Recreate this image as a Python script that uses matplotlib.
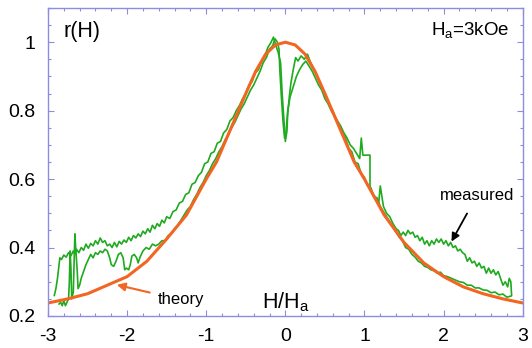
import matplotlib
matplotlib.use("Agg")
import matplotlib.pyplot as plt
from matplotlib.ticker import MultipleLocator

plt.rcParams['font.family'] = ['Liberation Sans', 'DejaVu Sans']
plt.rcParams['mathtext.default'] = 'regular'
plt.rcParams['axes.unicode_minus'] = False

# theory curve
theory_x = [-3.0, -2.75, -2.5, -2.25, -2.0, -1.75, -1.5, -1.25, -1.0, -0.87, -0.75,
            -0.62, -0.5, -0.375, -0.25, -0.125, 0.0, 0.125, 0.25, 0.375, 0.5, 0.62,
            0.75, 0.87, 1.0, 1.25, 1.5, 1.75, 2.0, 2.25, 2.5, 2.75, 3.0]
theory_y = [0.238, 0.25, 0.265, 0.29, 0.315, 0.36, 0.425, 0.495, 0.6, 0.65, 0.715,
            0.785, 0.85, 0.915, 0.965, 0.992, 1.0, 0.992, 0.965, 0.915, 0.85, 0.785,
            0.715, 0.65, 0.6, 0.495, 0.415, 0.355, 0.315, 0.285, 0.265, 0.25, 0.238]

# measured, first sweep
meas1_x = [-2.92, -2.9, -2.88, -2.86, -2.85, -2.83, -2.8, -2.77, -2.74, -2.71, -2.68,
           -2.66, -2.64, -2.61, -2.58, -2.55, -2.52, -2.49, -2.46, -2.43, -2.40, -2.37,
           -2.34, -2.31, -2.28, -2.25, -2.22, -2.19, -2.16, -2.13, -2.10, -2.07, -2.04,
           -2.01, -1.98, -1.95, -1.92, -1.89, -1.86, -1.83, -1.80, -1.77, -1.74, -1.71,
           -1.68, -1.65, -1.62, -1.59, -1.56, -1.53, -1.50, -1.46, -1.42, -1.38, -1.34,
           -1.30, -1.26, -1.22, -1.18, -1.14, -1.10, -1.06, -1.02, -0.98, -0.94, -0.90,
           -0.86, -0.82, -0.78, -0.74, -0.70, -0.66, -0.62, -0.58, -0.54, -0.50, -0.46,
           -0.42, -0.38, -0.34, -0.30, -0.26, -0.22, -0.18, -0.15, -0.12, -0.09, -0.06,
           -0.04, -0.02, 0.0, 0.02, 0.03, 0.05, 0.07, 0.1, 0.13, 0.16, 0.2, 0.24, 0.28,
           0.32, 0.36, 0.40, 0.44, 0.48, 0.52, 0.56, 0.60, 0.64, 0.68, 0.72, 0.76, 0.80,
           0.84, 0.88, 0.92, 0.96, 1.0, 1.04, 1.08, 1.12, 1.16, 1.20, 1.24, 1.28, 1.32,
           1.36, 1.40, 1.44, 1.48, 1.52, 1.56, 1.60, 1.64, 1.68, 1.72, 1.76, 1.80, 1.84,
           1.88, 1.92, 1.96, 2.0, 2.05, 2.10, 2.15, 2.20, 2.25, 2.30, 2.35, 2.40, 2.45,
           2.50, 2.55, 2.60, 2.65, 2.70, 2.75, 2.80, 2.85]
meas1_y = [0.26, 0.28, 0.31, 0.35, 0.37, 0.365, 0.378, 0.372, 0.385, 0.376, 0.39,
           0.38, 0.395, 0.385, 0.40, 0.392, 0.41, 0.398, 0.412, 0.405, 0.42, 0.41,
           0.428, 0.415, 0.42, 0.405, 0.41, 0.40, 0.415, 0.402, 0.418, 0.41, 0.422,
           0.415, 0.43, 0.42, 0.435, 0.428, 0.44, 0.432, 0.448, 0.44, 0.455, 0.445,
           0.465, 0.455, 0.47, 0.462, 0.48, 0.472, 0.49, 0.485, 0.505, 0.51, 0.53,
           0.535, 0.555, 0.56, 0.585, 0.59, 0.61, 0.62, 0.645, 0.65, 0.675, 0.68,
           0.705, 0.71, 0.735, 0.745, 0.77, 0.78, 0.80, 0.815, 0.835, 0.85, 0.875,
           0.885, 0.91, 0.92, 0.945, 0.96, 0.985, 1.0, 1.015, 0.99, 0.97, 0.94,
           0.85, 0.78, 0.71, 0.74, 0.79, 0.84, 0.88, 0.92, 0.955, 0.945, 0.96, 0.95, 0.965,
           0.94, 0.92, 0.9, 0.88, 0.86, 0.84, 0.815, 0.80, 0.775, 0.76, 0.735, 0.72, 0.69,
           0.68, 0.65, 0.645, 0.615, 0.605, 0.58, 0.575, 0.55, 0.545, 0.52, 0.505, 0.49, 0.475,
           0.46, 0.445, 0.43, 0.42, 0.40, 0.395, 0.38, 0.372, 0.36, 0.355, 0.345, 0.342, 0.335,
           0.332, 0.325, 0.328, 0.318, 0.315, 0.31, 0.305, 0.30, 0.298, 0.29, 0.29, 0.282, 0.282,
           0.276, 0.275, 0.268, 0.27, 0.262, 0.264, 0.255, 0.258]

# measured, return sweep
meas2_x = [2.86, 2.85, 2.83, 2.81, 2.78, 2.75, 2.72, 2.69, 2.66, 2.63, 2.60, 2.57,
           2.54, 2.51, 2.48, 2.45, 2.42, 2.39, 2.36, 2.33, 2.30, 2.27, 2.24, 2.21,
           2.18, 2.15, 2.12, 2.09, 2.06, 2.03, 2.00, 1.97, 1.94, 1.91, 1.88, 1.85,
           1.82, 1.79, 1.76, 1.73, 1.70, 1.67, 1.64, 1.61, 1.58, 1.55, 1.52, 1.49,
           1.46, 1.43, 1.40, 1.36, 1.32, 1.28, 1.24, 1.20, 1.18, 1.14, 1.10, 1.07,
           1.07, 1.07, 0.98, 0.96, 0.94, 0.90, 0.86, 0.82, 0.78, 0.74, 0.70, 0.66,
           0.62, 0.58, 0.54, 0.50, 0.46, 0.42, 0.38, 0.34, 0.30, 0.26, 0.22, 0.18,
           0.14, 0.10, 0.06, 0.03, 0.01, -0.01, -0.03, -0.05, -0.07, -0.08, -0.10,
           -0.13, -0.16, -0.20, -0.24, -0.28, -0.32, -0.36, -0.40, -0.44, -0.48,
           -0.52, -0.56, -0.60, -0.64, -0.68, -0.72, -0.76, -0.80, -0.84, -0.88,
           -0.92, -0.96, -1.0, -1.04, -1.08, -1.12, -1.16, -1.20, -1.24, -1.28,
           -1.32, -1.36, -1.40, -1.44, -1.48, -1.52, -1.56, -1.60, -1.64, -1.68,
           -1.72, -1.76, -1.80, -1.84, -1.86, -1.88, -1.91, -1.94, -1.96, -1.98,
           -2.01, -2.03, -2.05, -2.08, -2.11, -2.14, -2.17, -2.20, -2.22, -2.25,
           -2.28, -2.31, -2.34, -2.37, -2.40, -2.43, -2.46, -2.49, -2.52, -2.55,
           -2.58, -2.60, -2.62, -2.63, -2.65, -2.66, -2.67, -2.68, -2.70, -2.71,
           -2.72, -2.73, -2.74, -2.76, -2.78, -2.80, -2.82, -2.84, -2.86]
meas2_y = [0.26, 0.30, 0.31, 0.285, 0.30, 0.29, 0.31, 0.33, 0.32, 0.335, 0.325, 0.34,
           0.325, 0.345, 0.34, 0.355, 0.345, 0.36, 0.355, 0.37, 0.36, 0.38, 0.385, 0.395,
           0.39, 0.405, 0.40, 0.415, 0.405, 0.42, 0.41, 0.425, 0.415, 0.425, 0.41, 0.42,
           0.405, 0.42, 0.41, 0.43, 0.42, 0.435, 0.43, 0.445, 0.44, 0.45, 0.435, 0.445,
           0.435, 0.45, 0.455, 0.47, 0.49, 0.50, 0.52, 0.58, 0.53, 0.545, 0.56, 0.575,
           0.63, 0.67, 0.67, 0.72, 0.66, 0.675, 0.69, 0.70, 0.72, 0.735, 0.755, 0.77,
           0.785, 0.80, 0.82, 0.835, 0.86, 0.875, 0.895, 0.915, 0.93, 0.945, 0.935, 0.92,
           0.90, 0.87, 0.84, 0.80, 0.74, 0.72, 0.77, 0.84, 0.92, 0.98, 1.0,
           1.01, 0.99, 0.98, 0.955, 0.94, 0.915, 0.895, 0.875, 0.86, 0.84,
           0.82, 0.805, 0.785, 0.765, 0.75, 0.73, 0.715, 0.695, 0.68, 0.66,
           0.645, 0.625, 0.61, 0.59, 0.575, 0.555, 0.54, 0.52, 0.51, 0.495,
           0.48, 0.465, 0.455, 0.44, 0.435, 0.42, 0.42, 0.41, 0.405, 0.41,
           0.395, 0.40, 0.39, 0.37, 0.355, 0.37, 0.38, 0.375, 0.35, 0.335,
           0.34, 0.335, 0.37, 0.385, 0.38, 0.36, 0.345, 0.35, 0.37, 0.39,
           0.395, 0.385, 0.39, 0.38, 0.385, 0.37, 0.38, 0.365, 0.35, 0.33,
           0.31, 0.29, 0.28, 0.33, 0.40, 0.44, 0.36, 0.27, 0.25, 0.34,
           0.39, 0.30, 0.25, 0.24, 0.23, 0.245, 0.23, 0.24, 0.235]

xticks = [-3, -2, -1, 0, 1, 2, 3]
yticks = [0.2, 0.4, 0.6, 0.8, 1.0]
ytick_labels = ['0.2', '0.4', '0.6', '0.8', '1']

green = '#1faa1f'
orange = '#f26522'
frame = '#8c8ce0'

fig = plt.figure(figsize=(5.32, 3.48), dpi=100)
ax = fig.add_axes([0.0902, 0.092, 0.8923, 0.885])

ax.plot(meas1_x, meas1_y, color=green, lw=1.2)
ax.plot(meas2_x, meas2_y, color=green, lw=1.2)
ax.plot(theory_x, theory_y, color=orange, lw=2.2, solid_capstyle='round')

ax.set_xlim(-3, 3)
ax.set_ylim(0.2, 1.1)
ax.set_xticks(xticks)
ax.set_xticklabels([str(t) for t in xticks])
ax.set_yticks(yticks)
ax.set_yticklabels(ytick_labels)
ax.xaxis.set_minor_locator(MultipleLocator(0.2))
ax.yaxis.set_minor_locator(MultipleLocator(0.05))
ax.tick_params(which='both', direction='in', top=True, right=True, color=frame,
               labelsize=14)
ax.tick_params(which='major', length=4, width=0.8)
ax.tick_params(which='minor', length=2.5, width=0.8)
ax.tick_params(axis='y', pad=9)
ax.tick_params(axis='x', pad=9)
for s in ax.spines.values():
    s.set_color(frame)
    s.set_linewidth(1.0)

ax.text(-2.81, 1.031, 'r(H)', fontsize=15.5, va='center', ha='left')
ax.text(2.83, 1.037, 'H$_a$=3kOe', fontsize=13.5, va='center', ha='right')
ax.text(-0.30, 0.223, 'H/H$_a$', fontsize=15.5, va='baseline', ha='left')

ax.annotate('theory', xy=(-2.13, 0.291), xytext=(-1.61, 0.247),
            fontsize=12, va='center', ha='left',
            arrowprops=dict(arrowstyle='-|>', color=orange, lw=1.5,
                            mutation_scale=12, shrinkA=4, shrinkB=0))
ax.annotate('measured', xy=(2.10, 0.4175), xytext=(1.95, 0.551),
            fontsize=12, va='center', ha='left',
            arrowprops=dict(arrowstyle='-|>', color='black', lw=1.3,
                            mutation_scale=12, shrinkA=6, shrinkB=0))

fig.savefig('out.png', dpi=100)
